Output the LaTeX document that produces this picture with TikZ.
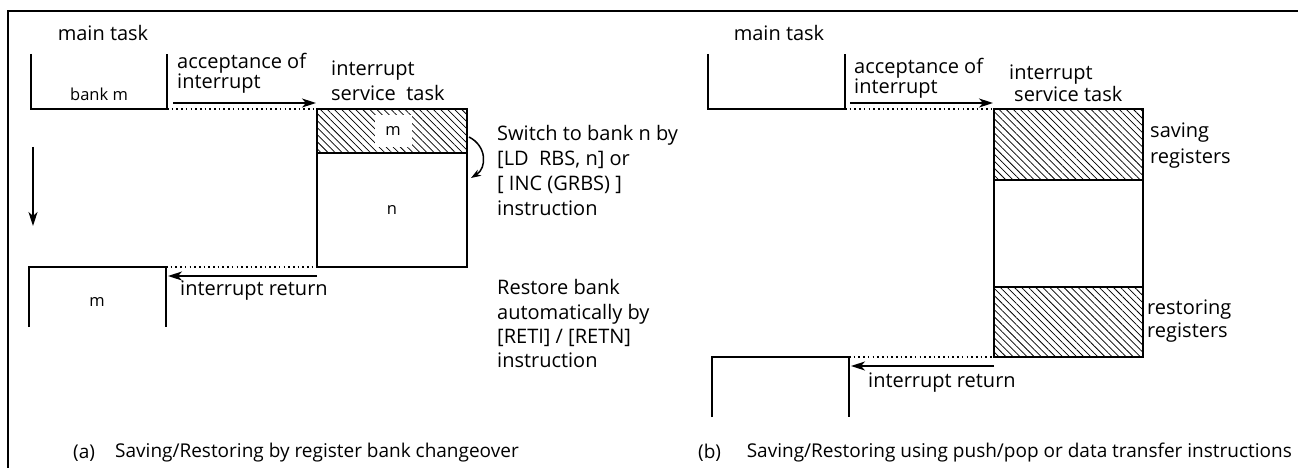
\documentclass[tikz,border=0pt]{standalone}
\usepackage{fontspec}
\setmainfont{Open Sans}
\usetikzlibrary{arrows.meta,patterns.meta}
\begin{document}
\begin{tikzpicture}[x=1pt,y=-1pt,
  box/.style={line width=1.5pt},
  flow/.style={line width=1.5pt,-{Stealth[length=14pt,width=9pt,inset=4pt]}},
  dotline/.style={line width=1.6pt,dash pattern=on 1.6pt off 3.1pt},
  hatch/.style={pattern={Lines[angle=-45,distance=5pt,line width=0.75pt]}},
  txt/.style={inner sep=0pt,font=\fontsize{20}{20}\selectfont},
  lbl/.style={inner sep=0pt,anchor=west,align=left},
  small/.style={inner sep=0pt,font=\fontsize{16.5}{16.5}\selectfont},
  captxt/.style={inner sep=0pt,font=\fontsize{19}{19}\selectfont},
]
\useasboundingbox (0,0) rectangle (1298,468);
% frame
\coordinate (fBL) at (8,468);
\coordinate (fTL) at (8,11);
\coordinate (fTR) at (1298,11);
\draw[line width=2pt] (fBL) -- (fTL) -- (fTR);

% ===================== panel (a) =====================
\node[txt] (amain) at (103,33) {main task};
\coordinate (amTL) at (31,54);
\coordinate (amBL) at (31,109);
\coordinate (amBR) at (167,109);
\coordinate (amTR) at (167,54);
\draw[box] (amTL) -- (amBL) -- (amBR) -- (amTR);
\node[small] (abank) at (99,94) {bank m};

\node[lbl,font=\fontsize{20}{19}\selectfont] (aacc) at (177,73.5) {acceptance of\\interrupt};
\coordinate (aAccS) at (173,103);
\coordinate (aAccE) at (316,103);
\draw[flow] (aAccS) -- (aAccE);

% ISR box (a)
\coordinate (aiTL) at (317,109);
\coordinate (aiMR) at (467,153);
\coordinate (aiML) at (317,153);
\coordinate (aiBL) at (317,267);
\coordinate (aiBR) at (467,267);
\draw[dotline] (amBR) -- (aiTL);
\fill[hatch] (aiTL) rectangle (aiMR);
\draw[box] (aiTL) rectangle (aiBR);
\draw[box] (aiML) -- (aiMR);
\node[small,fill=white,minimum width=37pt,minimum height=32pt] (am) at (393,131.5) {m};
\node[small] (an) at (392,210) {n};
\node[lbl,font=\fontsize{20}{25}\selectfont] (aisr) at (331,80.5) {interrupt\\service\ \ task};

% switch arrow
\coordinate (swS) at (469,137);
\coordinate (swE) at (471,178);
\draw[line width=1.5pt,-{Stealth[length=10pt,width=7pt,inset=3pt]}] (swS) .. controls (487,146) and (487,168) .. (swE);
\node[lbl,font=\fontsize{20}{25}\selectfont] (asw) at (497,170.5) {Switch to bank n by\\{[LD\ \ RBS, n]} or\\{[ INC (GRBS) ]}\\instruction};

% down arrow
\coordinate (dnS) at (33,147);
\coordinate (dnE) at (33,226);
\draw[flow] (dnS) -- (dnE);

% return (a)
\coordinate (arTL) at (29,267);
\coordinate (arBL) at (29,327);
\coordinate (arTR) at (166,267);
\coordinate (arBR) at (166,327);
\draw[box] (arBL) -- (arTL) -- (arTR) -- (arBR);
\node[small] (arm) at (97,302) {m};
\draw[dotline] (arTR) -- (aiBL);
\coordinate (aRetS) at (317,276);
\coordinate (aRetE) at (168,276);
\draw[flow] (aRetS) -- (aRetE);
\node[lbl,font=\fontsize{20}{20}\selectfont] (aret) at (180,291) {interrupt return};
\node[lbl,font=\fontsize{20}{24.3}\selectfont] (arest) at (497,323.7) {Restore bank\\automatically by\\{[RETI] / [RETN]}\\instruction};

\node[captxt,anchor=west] (acapl) at (73,453) {(a)};
\node[captxt,anchor=west] (acap) at (115,453) {Saving/Restoring by register bank changeover};

% ===================== panel (b) =====================
\node[txt] (bmain) at (779,33) {main task};
\coordinate (bmTL) at (708,54);
\coordinate (bmBL) at (708,109);
\coordinate (bmBR) at (845,109);
\coordinate (bmTR) at (845,54);
\draw[box] (bmTL) -- (bmBL) -- (bmBR) -- (bmTR);

\node[lbl,font=\fontsize{20}{20}\selectfont] (bacc) at (854,78) {acceptance of\\interrupt};
\coordinate (bAccS) at (850,103);
\coordinate (bAccE) at (993,103);
\draw[flow] (bAccS) -- (bAccE);

\coordinate (biTL) at (994,109);
\coordinate (biR1) at (1143,180);
\coordinate (biL1) at (994,180);
\coordinate (biL2) at (994,287);
\coordinate (biR2) at (1143,287);
\coordinate (biBL) at (994,357);
\coordinate (biBR) at (1143,357);
\draw[dotline] (bmBR) -- (biTL);
\fill[hatch] (biTL) rectangle (biR1);
\fill[hatch] (biL2) rectangle (biBR);
\draw[box] (biTL) rectangle (biBR);
\draw[box] (biL1) -- (biR1);
\draw[box] (biL2) -- (biR2);
\node[lbl,font=\fontsize{20}{22}\selectfont] (bisr) at (1009,83) {interrupt\\\hspace*{5pt}service task};
\node[lbl,font=\fontsize{20}{26}\selectfont] (bsave) at (1150,146) {saving\\registers};
\node[lbl,font=\fontsize{20}{23}\selectfont] (brest) at (1147,321.5) {restoring\\registers};

\coordinate (brTL) at (712,357);
\coordinate (brBL) at (712,417);
\coordinate (brTR) at (849,357);
\coordinate (brBR) at (849,417);
\draw[box] (brBL) -- (brTL) -- (brTR) -- (brBR);
\draw[dotline] (brTR) -- (biBL);
\coordinate (bRetS) at (994,366);
\coordinate (bRetE) at (851,366);
\draw[flow] (bRetS) -- (bRetE);
\node[lbl,font=\fontsize{20}{20}\selectfont] (bret) at (868,383) {interrupt return};

\node[captxt,anchor=west] (bcapl) at (698,453) {(b)};
\node[captxt,anchor=east] (bcap) at (1292,453) {Saving/Restoring using push/pop or data transfer instructions};
\end{tikzpicture}
\end{document}
